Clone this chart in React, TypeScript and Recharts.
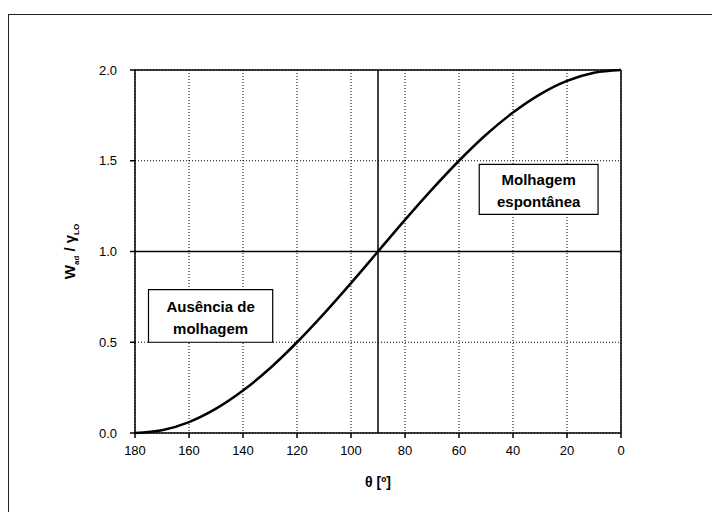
import { LineChart, Line, XAxis, YAxis, CartesianGrid, ReferenceLine, ReferenceArea } from 'recharts';

// contact angle (deg) and adhesion work ratio
const theta = [180, 170, 160, 150, 140, 130, 120, 110, 100, 90, 80, 70, 60, 50, 40, 30, 20, 10, 0];
const wRatio = [0.0, 0.015, 0.06, 0.134, 0.234, 0.357, 0.5, 0.658, 0.826, 1.0, 1.174, 1.342, 1.5, 1.643, 1.766, 1.866, 1.94, 1.985, 2.0];

const xMajor = [0, 20, 40, 60, 80, 100, 120, 140, 160, 180];
const xMinor = [10, 30, 50, 70, 90, 110, 130, 150, 170];
const yMajor = [0, 0.5, 1.0, 1.5, 2.0];
const yMinor = [0.25, 0.75, 1.25, 1.75];

const noWetBox = { x1: 175, x2: 129, y1: 0.5, y2: 0.79, lines: ['Ausência de', 'molhagem'] };
const wetBox = { x1: 52.5, x2: 8.5, y1: 1.205, y2: 1.48, lines: ['Molhagem', 'espontânea'] };

const data = theta.map((t, i) => ({ theta: t, w: wRatio[i] }));

const FONT = '"Liberation Sans", Arial, sans-serif';

function BoxLabel({ viewBox, lines }: any) {
    if (!viewBox) return null;
    const cx = viewBox.x + viewBox.width / 2;
    const cy = viewBox.y + viewBox.height / 2;
    return (
        <text textAnchor="middle" fontFamily={FONT} fontWeight="bold" fontSize={15} fill="#000">
            <tspan x={cx} y={cy - 4}>{lines[0]}</tspan>
            <tspan x={cx} y={cy + 18}>{lines[1]}</tspan>
        </text>
    );
}

function YTitle({ viewBox }: any) {
    const cx = 75;
    const cy = viewBox ? viewBox.y + viewBox.height / 2 : 252;
    return (
        <text transform={`translate(${cx},${cy}) rotate(-90)`} textAnchor="middle" fontFamily={FONT} fontWeight="bold" fontSize={15} fill="#000">
            <tspan>W</tspan>
            <tspan fontSize={8} dy={4}>ad</tspan>
            <tspan dy={-4}> / γ</tspan>
            <tspan fontSize={8} dy={4}>LO</tspan>
        </text>
    );
}

export default function App() {
    const tickStyle = { fontSize: 13, fontFamily: FONT, fill: '#000' };
    return (
        <div style={{ position: 'absolute', left: 0, top: 0, width: 712, height: 512, background: '#fff' }}>
            <div style={{ position: 'absolute', left: 8, top: 14, width: 720, height: 520, borderTop: '1.5px solid #222', borderLeft: '1.5px solid #222' }} />
            <LineChart width={712} height={512} data={data} margin={{ top: 70, right: 91, bottom: 0, left: 0 }}>
                <XAxis xAxisId="minor" dataKey="theta" type="number" domain={[0, 180]} reversed ticks={xMinor}
                    height={0} tickSize={3} axisLine={false} tickFormatter={() => ''} stroke="#000" />
                <XAxis dataKey="theta" type="number" domain={[0, 180]} reversed ticks={xMajor} height={79}
                    tickSize={5} tickMargin={8} tick={tickStyle} stroke="#000" strokeWidth={1.5}
                    label={{ value: 'θ [º]', position: 'insideTop', offset: 44, style: { fontSize: 14, fontWeight: 'bold', fontFamily: FONT, fill: '#000' } }} />
                <YAxis yAxisId="minor" type="number" domain={[0, 2]} ticks={yMinor} width={0} tickSize={3}
                    axisLine={false} tickFormatter={() => ''} stroke="#000" />
                <YAxis type="number" domain={[0, 2]} ticks={yMajor} width={135} tickSize={5} tickMargin={13}
                    tick={tickStyle} tickFormatter={(v: number) => v.toFixed(1)} stroke="#000" strokeWidth={1.5}
                    label={<YTitle />} />
                <CartesianGrid stroke="#000" strokeDasharray="1 2" />
                <ReferenceLine y={2} stroke="#000" strokeWidth={1.5} />
                <ReferenceLine x={0} stroke="#000" strokeWidth={1.5} />
                <ReferenceLine y={1} stroke="#000" strokeWidth={1.5} />
                <ReferenceLine x={90} stroke="#000" strokeWidth={1.5} />
                {[noWetBox, wetBox].map((b, i) => (
                    <ReferenceArea key={i} x1={b.x1} x2={b.x2} y1={b.y1} y2={b.y2} fill="#fff" fillOpacity={1}
                        stroke="#000" strokeWidth={1.2} label={<BoxLabel lines={b.lines} />} />
                ))}
                <Line type="monotone" dataKey="w" stroke="#000" strokeWidth={2.5} dot={false} isAnimationActive={false} />
            </LineChart>
        </div>
    );
}
